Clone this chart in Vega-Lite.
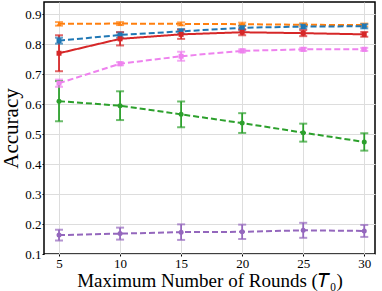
{
  "$schema": "https://vega.github.io/schema/vega-lite/v6.json",
  "width": 331,
  "height": 252,
  "autosize": "none",
  "padding": {"left": 44, "top": 2, "right": 7, "bottom": 37},
  "config": {
    "font": "Liberation Serif",
    "view": {"stroke": "black", "strokeWidth": 1.5},
    "axis": {"gridColor": "#dddddd", "gridWidth": 1, "domain": false, "tickColor": "black", "tickSize": 2, "labelColor": "black", "labelFont": "Liberation Serif", "labelFontSize": 13, "labelOverlap": false, "titleFont": "Liberation Serif", "titleFontWeight": "normal", "titleColor": "black"}
  },
  "data": {"values": [
    {"T": 5, "s": "orange", "m": 0.868, "lo": 0.862, "hi": 0.874},
    {"T": 10, "s": "orange", "m": 0.869, "lo": 0.864, "hi": 0.874},
    {"T": 15, "s": "orange", "m": 0.868, "lo": 0.863, "hi": 0.873},
    {"T": 20, "s": "orange", "m": 0.867, "lo": 0.862, "hi": 0.872},
    {"T": 25, "s": "orange", "m": 0.865, "lo": 0.86, "hi": 0.87},
    {"T": 30, "s": "orange", "m": 0.864, "lo": 0.859, "hi": 0.869},
    {"T": 5, "s": "blue", "m": 0.812, "lo": 0.802, "hi": 0.822},
    {"T": 10, "s": "blue", "m": 0.831, "lo": 0.822, "hi": 0.84},
    {"T": 15, "s": "blue", "m": 0.843, "lo": 0.835, "hi": 0.851},
    {"T": 20, "s": "blue", "m": 0.855, "lo": 0.848, "hi": 0.862},
    {"T": 25, "s": "blue", "m": 0.859, "lo": 0.852, "hi": 0.866},
    {"T": 30, "s": "blue", "m": 0.86, "lo": 0.853, "hi": 0.867},
    {"T": 5, "s": "red", "m": 0.77, "lo": 0.71, "hi": 0.83},
    {"T": 10, "s": "red", "m": 0.818, "lo": 0.796, "hi": 0.84},
    {"T": 15, "s": "red", "m": 0.833, "lo": 0.818, "hi": 0.848},
    {"T": 20, "s": "red", "m": 0.84, "lo": 0.83, "hi": 0.85},
    {"T": 25, "s": "red", "m": 0.837, "lo": 0.827, "hi": 0.847},
    {"T": 30, "s": "red", "m": 0.833, "lo": 0.825, "hi": 0.841},
    {"T": 5, "s": "pink", "m": 0.67, "lo": 0.658, "hi": 0.682},
    {"T": 10, "s": "pink", "m": 0.735, "lo": 0.73, "hi": 0.74},
    {"T": 15, "s": "pink", "m": 0.76, "lo": 0.745, "hi": 0.775},
    {"T": 20, "s": "pink", "m": 0.778, "lo": 0.773, "hi": 0.783},
    {"T": 25, "s": "pink", "m": 0.783, "lo": 0.778, "hi": 0.788},
    {"T": 30, "s": "pink", "m": 0.783, "lo": 0.778, "hi": 0.788},
    {"T": 5, "s": "green", "m": 0.61, "lo": 0.543, "hi": 0.677},
    {"T": 10, "s": "green", "m": 0.595, "lo": 0.547, "hi": 0.643},
    {"T": 15, "s": "green", "m": 0.566, "lo": 0.523, "hi": 0.609},
    {"T": 20, "s": "green", "m": 0.537, "lo": 0.504, "hi": 0.57},
    {"T": 25, "s": "green", "m": 0.505, "lo": 0.475, "hi": 0.535},
    {"T": 30, "s": "green", "m": 0.474, "lo": 0.445, "hi": 0.503},
    {"T": 5, "s": "purple", "m": 0.163, "lo": 0.145, "hi": 0.181},
    {"T": 10, "s": "purple", "m": 0.168, "lo": 0.148, "hi": 0.188},
    {"T": 15, "s": "purple", "m": 0.173, "lo": 0.147, "hi": 0.199},
    {"T": 20, "s": "purple", "m": 0.174, "lo": 0.15, "hi": 0.198},
    {"T": 25, "s": "purple", "m": 0.179, "lo": 0.154, "hi": 0.204},
    {"T": 30, "s": "purple", "m": 0.177, "lo": 0.157, "hi": 0.197}
  ]},
  "encoding": {
    "x": {"field": "T", "type": "quantitative", "scale": {"domain": [3.77, 30.88], "nice": false, "zero": false},
      "axis": {"values": [5, 10, 15, 20, 25, 30], "title": "Maximum Number of Rounds (𝑇₀)", "titleFontSize": 19, "titlePadding": 1, "labelPadding": 1, "labelOverlap": false}},
    "y": {"field": "m", "type": "quantitative", "scale": {"domain": [0.1, 0.941], "nice": false, "zero": false},
      "axis": {"values": [0.1, 0.2, 0.3, 0.4, 0.5, 0.6, 0.7, 0.8, 0.9], "format": ".1f", "title": "Accuracy", "titleFontSize": 21, "titlePadding": 3, "labelPadding": 1, "labelOverlap": false, "labelBound": false}},
    "color": {"field": "s", "type": "nominal", "legend": null,
      "scale": {"domain": ["purple", "green", "pink", "blue", "red", "orange"], "range": ["#9467bd", "#2ca02c", "#ee82ee", "#1f77b4", "#d62728", "#ff7f0e"]}}
  },
  "layer": [
    {"mark": {"type": "rule", "strokeWidth": 1.8},
     "encoding": {"y": {"field": "lo", "type": "quantitative", "title": "Accuracy"}, "y2": {"field": "hi"}}},
    {"mark": {"type": "tick", "orient": "horizontal", "size": 8, "thickness": 2},
     "encoding": {"y": {"field": "lo", "type": "quantitative", "title": "Accuracy"}}},
    {"mark": {"type": "tick", "orient": "horizontal", "size": 8, "thickness": 2},
     "encoding": {"y": {"field": "hi", "type": "quantitative", "title": "Accuracy"}}},
    {"mark": {"type": "line", "strokeWidth": 2},
     "encoding": {
       "strokeDash": {"field": "s", "type": "nominal", "legend": null,
         "scale": {"domain": ["purple", "green", "pink", "blue", "red", "orange"], "range": [[6, 3], [6, 3], [6, 3], [6, 3], [1, 0], [6, 3]]}}
     }},
    {"mark": {"type": "point", "filled": true, "opacity": 1},
     "encoding": {
       "shape": {"field": "s", "type": "nominal", "legend": null,
         "scale": {"domain": ["purple", "green", "pink", "blue", "red", "orange"], "range": ["circle", "circle", "square", "square", "square", "triangle-up"]}},
       "size": {"value": 25}
     }}
  ]
}
